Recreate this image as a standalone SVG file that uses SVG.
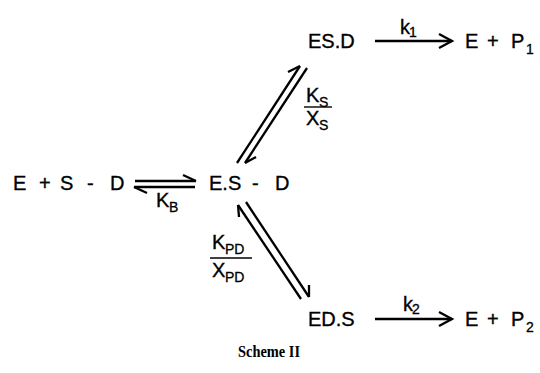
<svg xmlns="http://www.w3.org/2000/svg" width="540" height="373" viewBox="0 0 540 373">
<style>
.t{font-family:"Liberation Sans",Arial,sans-serif;font-size:20px;fill:#000;stroke:#000;stroke-width:0.35}
.s{font-family:"Liberation Sans",Arial,sans-serif;font-size:14px;fill:#000;stroke:#000;stroke-width:0.3}
.l{stroke:#000;stroke-width:2.3;fill:none;stroke-linecap:butt}
.h{stroke:#000;stroke-width:2.3;fill:none;stroke-linejoin:miter}
.bar{stroke:#000;stroke-width:1.4}
.cap{font-family:"Liberation Serif","Times New Roman",serif;font-size:17px;font-weight:bold;fill:#000}
</style>
<rect width="540" height="373" fill="#fff"/>
<g id="reactants"><text class="t" y="190"><tspan x="13">E</tspan><tspan x="39">+</tspan><tspan x="60">S</tspan><tspan x="87">-</tspan><tspan x="110">D</tspan></text></g>
<g id="complex-ES-D"><text class="t" y="190"><tspan x="209">E.S</tspan><tspan x="252">-</tspan><tspan x="275">D</tspan></text></g>
<g id="ES.D"><text class="t" x="308" y="48">ES.D</text></g>
<g id="ED.S"><text class="t" x="308" y="326">ED.S</text></g>
<g id="products1"><text class="t" y="48"><tspan x="465">E</tspan><tspan x="487">+</tspan><tspan x="511">P</tspan></text><text class="s" x="526" y="54">1</text></g>
<g id="products2"><text class="t" y="326"><tspan x="465">E</tspan><tspan x="487">+</tspan><tspan x="511">P</tspan></text><text class="s" x="526" y="332">2</text></g>
<g id="connectors">
<line class="l" x1="135" y1="181" x2="196" y2="181"/>
<path class="h" d="M196 181 L183 175"/>
<line class="l" x1="134" y1="187" x2="195" y2="187"/>
<path class="h" d="M134 187 L147 193"/>
<line class="l" x1="237" y1="163" x2="300" y2="66"/>
<path class="h" d="M300 66 L288 72"/>
<line class="l" x1="307" y1="68" x2="245" y2="163"/>
<path class="h" d="M245 163 L256 157"/>
<line class="l" x1="238" y1="205" x2="301" y2="299"/>
<path class="h" d="M238 205 L239 217"/>
<line class="l" x1="246" y1="202" x2="309" y2="297"/>
<path class="h" d="M309 297 L309 285"/>
<line class="l" x1="375" y1="41" x2="452" y2="41"/>
<path class="h" d="M439 34 L452 41 L439 48"/>
<line class="l" x1="375" y1="319" x2="452" y2="319"/>
<path class="h" d="M439 312 L452 319 L439 326"/>
</g>
<g id="labels">
<text class="t" x="156" y="207">K</text><text class="s" x="169" y="212">B</text>
<text class="t" x="306" y="102">K</text><text class="s" x="319" y="107">S</text>
<line class="bar" x1="304" y1="107" x2="332" y2="107"/>
<text class="t" x="306" y="125">X</text><text class="s" x="319" y="130">S</text>
<text class="t" x="212" y="249">K</text><text class="s" x="225" y="254">PD</text>
<line class="bar" x1="210" y1="258" x2="252" y2="258"/>
<text class="t" x="212" y="277">X</text><text class="s" x="225" y="282">PD</text>
<text class="t" x="400" y="34">k</text><text class="s" x="409" y="37">1</text>
<text class="t" x="403" y="311">k</text><text class="s" x="412" y="314">2</text>
</g>
<g id="caption"><text class="cap" x="238" y="357" textLength="62" lengthAdjust="spacingAndGlyphs">Scheme II</text></g>
</svg>
